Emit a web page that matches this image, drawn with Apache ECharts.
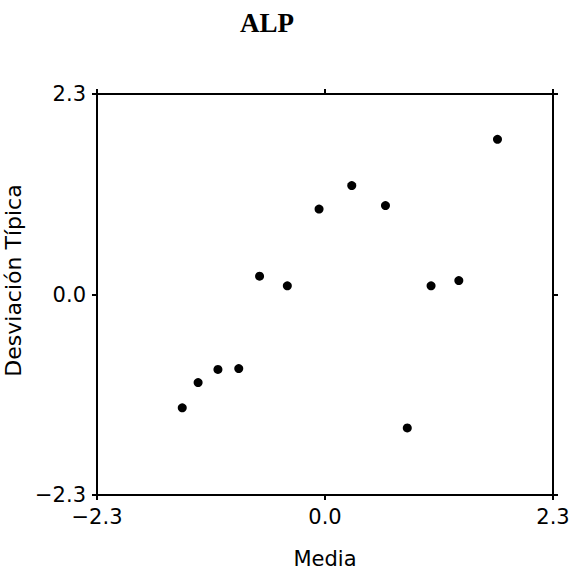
<!DOCTYPE html>
<html>
<head>
<meta charset="utf-8">
<script src="https://cdn.jsdelivr.net/npm/echarts@6/dist/echarts.min.js"></script>
<style>
  html, body { margin: 0; padding: 0; background: #fff; }
</style>
</head>
<body>
<div id="main" style="width: 572px;height:575px;"></div>
<script type="text/javascript">
  // valores
  var mediaVals = [-1.44, -1.28, -1.08, -0.87, -0.66, -0.38, -0.06, 0.27, 0.61, 0.83, 1.07, 1.35, 1.74];
  var desvVals  = [-1.30, -1.01, -0.86, -0.85, 0.21, 0.10, 0.98, 1.25, 1.02, -1.53, 0.10, 0.16, 1.78];
  var axisMin = -2.3, axisMax = 2.3, axisStep = 2.3;

  var puntos = [];
  for (var i = 0; i < mediaVals.length; i++) {
    puntos.push([mediaVals[i], desvVals[i]]);
  }

  function fmt(v) {
    return v.toFixed(1).replace('-', '\u2212');
  }

  var lineStyle = { color: '#000', width: 2 };
  var labelFont = 'DejaVu Sans';

  var chart = echarts.init(document.getElementById('main'), null, { renderer: 'svg' });

  function ejeBase(pos, showLabel) {
    return {
      type: 'value',
      position: pos,
      min: axisMin,
      max: axisMax,
      interval: axisStep,
      splitLine: { show: false },
      axisLine: { show: true, onZero: false, lineStyle: lineStyle },
      axisTick: { show: true, inside: false, length: 5, lineStyle: lineStyle },
      axisLabel: {
        show: showLabel,
        color: '#000',
        fontFamily: labelFont,
        fontSize: 21,
        margin: 11,
        formatter: fmt
      }
    };
  }

  var xAbajo = ejeBase('bottom', true);
  xAbajo.name = 'Media';
  xAbajo.nameLocation = 'middle';
  xAbajo.nameGap = 53;
  xAbajo.nameTextStyle = { color: '#000', fontFamily: labelFont, fontSize: 21 };

  var yIzq = ejeBase('left', true);
  yIzq.name = 'Desviación Típica';
  yIzq.nameLocation = 'middle';
  yIzq.nameGap = 68;
  yIzq.nameTextStyle = { color: '#000', fontFamily: labelFont, fontSize: 22, padding: [0, 0, 0, 28] };

  chart.setOption({
    animation: false,
    title: {
      text: 'ALP',
      left: 262,
      top: 4,
      textAlign: 'center',
      textStyle: { color: '#000', fontFamily: 'Liberation Serif', fontWeight: 'bold', fontSize: 27 }
    },
    grid: { left: 97, right: 19, top: 94, bottom: 80, containLabel: false, outerBoundsMode: 'none' },
    xAxis: [xAbajo, ejeBase('top', false)],
    yAxis: [yIzq, ejeBase('right', false)],
    series: [{
      type: 'scatter',
      xAxisIndex: 0,
      yAxisIndex: 0,
      symbolSize: 9,
      itemStyle: { color: '#000', opacity: 1 },
      data: puntos
    }]
  });
</script>
</body>
</html>
